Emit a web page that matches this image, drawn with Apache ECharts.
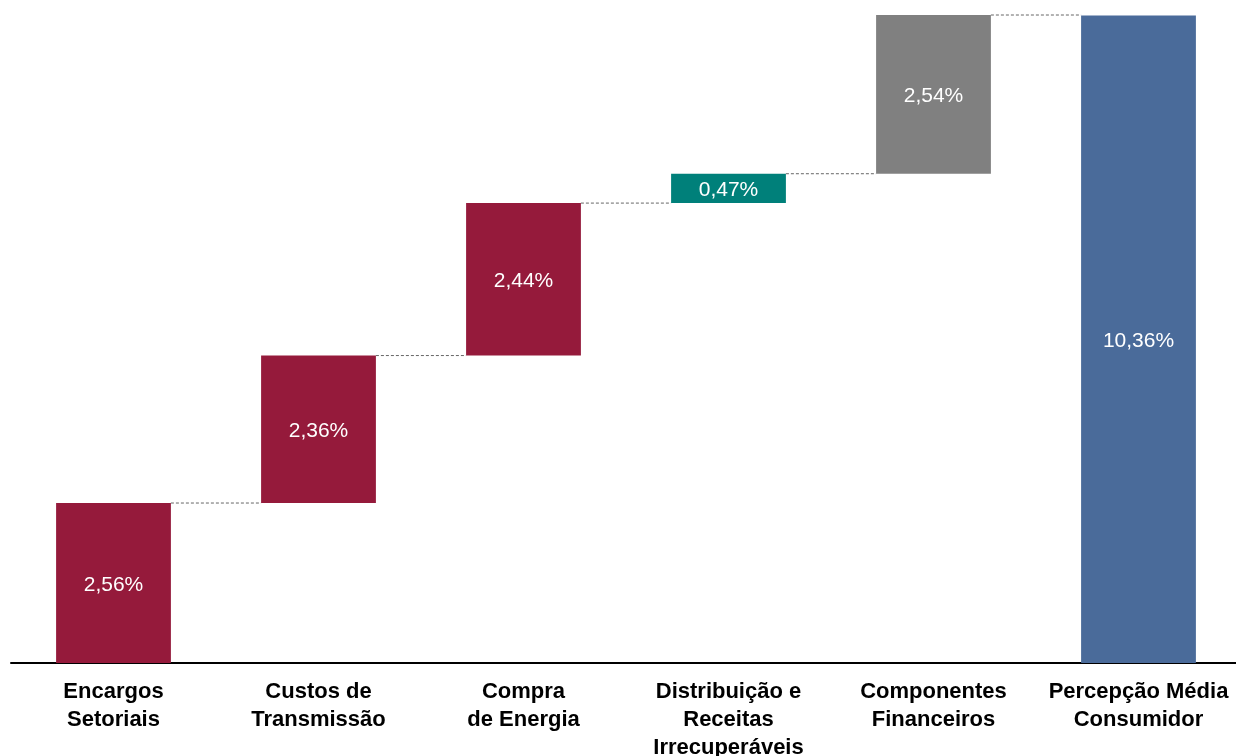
<!DOCTYPE html>
<html><head><meta charset="utf-8">
<script src="https://cdn.jsdelivr.net/npm/echarts@6/dist/echarts.min.js"></script>
<style>html,body{margin:0;padding:0;background:#fff}#c{width:1236px;height:756px}</style>
</head><body><div id="c"></div>
<script>
const categories = ['Encargos\nSetoriais','Custos de\nTransmissão','Compra\nde Energia','Distribuição e\nReceitas\nIrrecuperáveis','Componentes\nFinanceiros','Percepção Média\nConsumidor'];
const steps = [2.56, 2.36, 2.44, 0.47, 2.54];
const total = 10.36;
const colors = ['#951A3B','#951A3B','#951A3B','#00807A','#808080','#4A6B9A'];

const bases = [], values = [], tops = [];
let acc = 0;
steps.forEach(v => { bases.push(acc); values.push(v); acc += v; tops.push(acc); });
bases.push(0); values.push(total);
const fmt = v => v.toFixed(2).replace('.', ',') + '%';

const chart = echarts.init(document.getElementById('c'));
chart.setOption({
  animation: false,
  grid: {left: 11, right: -5, top: 15, bottom: 93, containLabel: false, outerBoundsMode: 'none'},
  xAxis: {
    type: 'category', data: categories,
    axisLine: {lineStyle: {color: '#000', width: 2}},
    axisTick: {show: false},
    axisLabel: {color: '#000', fontFamily: 'Liberation Sans, Arial', fontWeight: 'bold', fontSize: 22, lineHeight: 28, margin: 15, interval: 0}
  },
  yAxis: {type: 'value', min: 0, max: 10.37, show: false, splitLine: {show: false}},
  series: [
    {type: 'bar', stack: 'w', data: bases, itemStyle: {color: 'transparent'}, barWidth: '56%', silent: true},
    {type: 'bar', stack: 'w', barWidth: '56%',
      data: values.map((v, i) => ({value: v, itemStyle: {color: colors[i]}})),
      label: {show: true, position: 'inside', offset: [0, 2], color: '#fff', fontFamily: 'Liberation Sans, Arial', fontSize: 21, formatter: p => fmt(p.value)}
    },
    {type: 'custom', data: tops.map((t, i) => [i, t]),
      renderItem: (params, api) => {
        const i = api.value(0), t = api.value(1);
        const bw = api.size([1, 0])[0];
        const p1 = api.coord([i, t]), p2 = api.coord([i + 1, t]);
        return {type: 'line', shape: {x1: p1[0] + bw * 0.28, y1: p1[1], x2: p2[0] - bw * 0.28, y2: p2[1]},
          style: {stroke: '#666', lineWidth: 1, lineDash: [3, 2]}};
      }, z: 1}
  ]
});
</script></body></html>
